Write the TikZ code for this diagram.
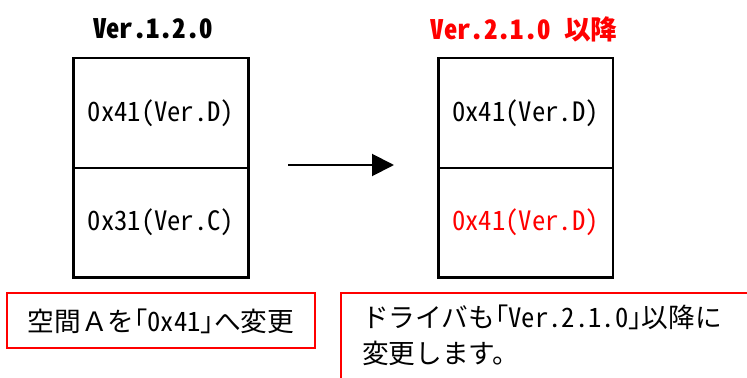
\documentclass[tikz,border=0pt]{standalone}
\usepackage{fontspec}
\setmainfont{Noto Sans CJK JP}
\newfontfamily\hw{Noto Sans CJK JP}[RawFeature=+hwid]
\usetikzlibrary{arrows.meta}
\tikzset{
  cell/.style={minimum width=130.5pt, minimum height=82pt, inner sep=0pt},
  outer/.style={draw=black, line width=1.9pt},
  divider/.style={draw=black, line width=1.2pt},
  redbox/.style={draw=red, line width=1.5pt},
  title/.style={font=\fontsize{20pt}{24pt}\selectfont\bfseries, inner sep=0pt},
  txt/.style={font=\fontsize{20pt}{27pt}\selectfont, inner sep=0pt},
  line/.style={txt, anchor=west, text height=0.88em, text depth=0.12em},
  conn/.style={line width=1.5pt, -{Triangle[length=16.5pt,width=16.5pt]}}
}
\begin{document}
\begin{tikzpicture}[x=0.75pt,y=-0.75pt]
\useasboundingbox (0,0) rectangle (747,378);
\clip (0,0) rectangle (747,378);
\fill[white] (0,0) rectangle (747,378);
% titles
\node[title] (t1) at (153,29) {\hw Ver.1.2.0};
\node[title, text=red] (t2) at (524,29) {{\hw Ver.2.1.0 }以降};
% left stack
\node[cell, txt] (l1) at (161,113) {\hw 0x41(Ver.D)};
\node[cell, txt] (l2) at (161,222.5) {\hw 0x31(Ver.C)};
\draw[outer] (l1.north west) rectangle (l2.south east);
\draw[divider] (l1.south west) -- (l1.south east);
% right stack
\node[cell, txt] (r1) at (525.5,113) {\hw 0x41(Ver.D)};
\node[cell, txt, text=red] (r2) at (525.5,222.5) {\hw 0x41(Ver.D)};
\draw[outer] (r1.north west) rectangle (r2.south east);
\draw[divider] (r1.south west) -- (r1.south east);
% arrow
\coordinate (as) at (288,165);
\coordinate (ae) at (394,165);
\draw[conn] (as) -- (ae);
% note boxes
\node[txt] (n1) at (161,321) {空間Ａを{\hw ｢0x41｣}へ変更};
\draw[redbox] (7,293) rectangle (315,348);
\node[line] (n2a) at (362,322) {ドライバも{\hw ｢Ver.2.1.0｣}以降に};
\node[line] (n2b) at (362,358) {変更します。};
\draw[redbox] (341,410) -- (341,293) -- (770,293);
\end{tikzpicture}
\end{document}
